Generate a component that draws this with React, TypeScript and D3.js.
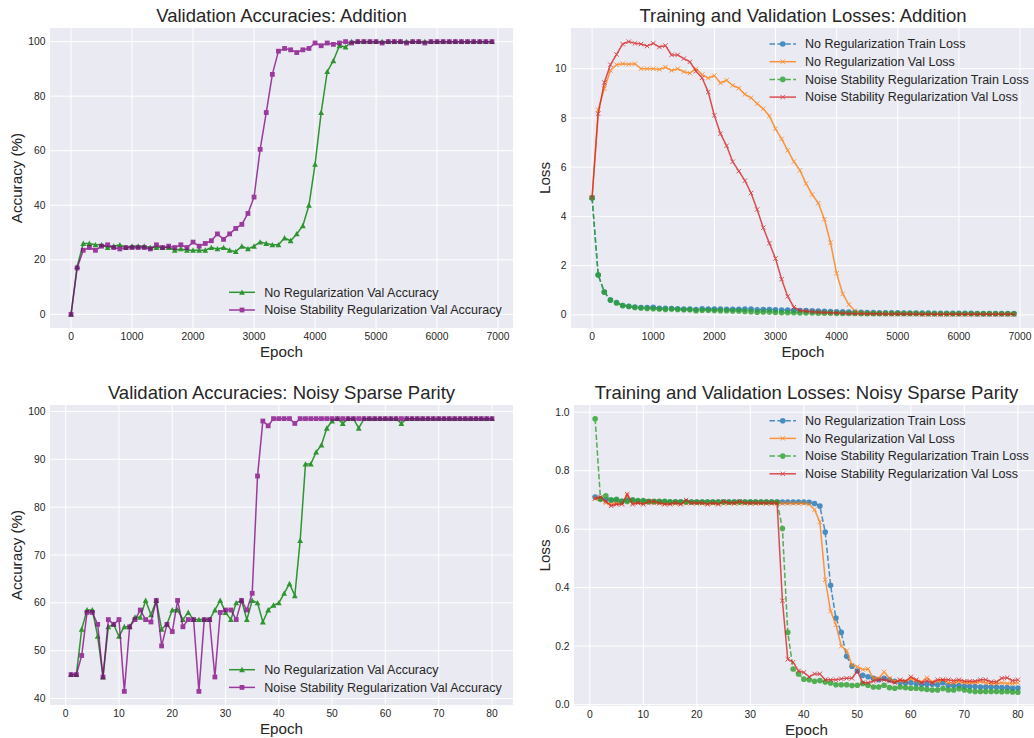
import React from "react";
import * as d3 from "d3";

// ---------- DATA ----------
const addEpochs = d3.range(0, 7000, 100);
const parityEpochs = d3.range(1, 81, 1);

const addAccNoReg = [
  0, 17.5, 26, 26, 25.5, 25.5, 24.5, 25, 25.5, 24.5, 25, 25, 25, 24.5, 24.5, 24.5, 24.5, 23.5, 24, 23.5,
  23.5, 23.5, 23.5, 24.5, 24, 24.5, 23.5, 23, 25, 24, 25, 26.5, 26, 25.5, 25.5, 28, 27, 29.5, 32.5, 40,
  55, 74, 89, 93, 98.5, 98, 100, 100, 100, 100, 100, 100, 100, 100, 100, 100, 100, 100, 100, 100,
  100, 100, 100, 100, 100, 100, 100, 100, 100, 100,
];
const addAccNoise = [
  0, 17, 23.5, 24.5, 23.5, 25, 25.5, 24.5, 24, 24.5, 24.5, 24.5, 24.5, 24, 25.5, 24.5, 25, 24.5, 25.5, 24.5,
  26.5, 25, 26, 27, 29.5, 27.5, 29.5, 31.5, 33, 37, 43, 60.5, 74, 88, 96.5, 97.5, 97, 96, 97, 97.5,
  99.5, 98.5, 99.5, 99, 99.5, 100, 99.5, 100, 100, 100, 100, 99.5, 100, 100, 100, 99.5, 100, 100, 99.5, 100,
  100, 100, 100, 100, 100, 100, 100, 100, 100, 100,
];

const addTrainNoReg = [
  4.75, 1.62, 0.93, 0.6, 0.5, 0.38, 0.35, 0.32, 0.3, 0.3, 0.31, 0.27, 0.27, 0.26, 0.25, 0.24, 0.24, 0.22, 0.25, 0.24,
  0.24, 0.24, 0.23, 0.23, 0.23, 0.24, 0.24, 0.21, 0.22, 0.22, 0.21, 0.2, 0.2, 0.19, 0.18, 0.17, 0.16, 0.15, 0.14, 0.13,
  0.12, 0.12, 0.11, 0.1, 0.1, 0.09, 0.09, 0.08, 0.08, 0.08, 0.08, 0.07, 0.07, 0.07, 0.07, 0.07, 0.06, 0.06, 0.06, 0.06,
  0.06, 0.06, 0.06, 0.05, 0.05, 0.05, 0.05, 0.05, 0.05, 0.05,
];
const addValNoReg = [
  4.77, 8.33, 9.19, 9.93, 10.16, 10.2, 10.18, 10.2, 10.0, 10.0, 10.0, 9.97, 10.06, 9.93, 10.0, 9.88, 9.82, 10.0, 9.76, 9.62,
  9.72, 9.42, 9.53, 9.32, 9.21, 8.96, 8.82, 8.58, 8.37, 8.08, 7.56, 7.15, 6.68, 6.23, 5.87, 5.33, 4.89, 4.54, 3.88, 2.93,
  1.69, 0.85, 0.42, 0.16, 0.08, 0.06, 0.05, 0.05, 0.05, 0.04, 0.04, 0.04, 0.04, 0.04, 0.03, 0.03, 0.03, 0.03, 0.03, 0.03,
  0.03, 0.03, 0.03, 0.03, 0.03, 0.03, 0.03, 0.03, 0.03, 0.03,
];
const addTrainNoise = [
  4.75, 1.62, 0.93, 0.6, 0.48, 0.38, 0.34, 0.3, 0.28, 0.26, 0.25, 0.24, 0.22, 0.24, 0.22, 0.21, 0.21, 0.17, 0.19, 0.19,
  0.18, 0.17, 0.17, 0.16, 0.16, 0.14, 0.13, 0.11, 0.12, 0.12, 0.1, 0.09, 0.09, 0.09, 0.08, 0.08, 0.08, 0.07, 0.07, 0.07,
  0.06, 0.06, 0.06, 0.06, 0.05, 0.05, 0.05, 0.05, 0.05, 0.05, 0.05, 0.05, 0.05, 0.05, 0.04, 0.04, 0.04, 0.04, 0.04, 0.04,
  0.04, 0.04, 0.04, 0.04, 0.04, 0.04, 0.04, 0.04, 0.04, 0.04,
];
const addValNoise = [
  4.77, 8.17, 9.44, 10.16, 10.58, 11.0, 11.1, 11.03, 11.0, 10.92, 11.03, 10.88, 10.94, 10.56, 10.56, 10.41, 10.28, 9.9, 9.63, 9.05,
  8.1, 7.36, 6.87, 6.22, 5.84, 5.45, 4.95, 4.28, 3.54, 2.91, 2.29, 1.45, 0.75, 0.31, 0.18, 0.15, 0.13, 0.11, 0.1, 0.09,
  0.08, 0.07, 0.06, 0.05, 0.05, 0.04, 0.04, 0.04, 0.03, 0.03, 0.03, 0.03, 0.03, 0.03, 0.02, 0.02, 0.02, 0.02, 0.02, 0.02,
  0.02, 0.02, 0.02, 0.02, 0.02, 0.02, 0.02, 0.02, 0.02, 0.02,
];

const parAccNoReg = [
  45, 45, 54.5, 58.5, 58.5, 53, 44.5, 55, 55.5, 53, 55, 55, 57, 57, 60.5, 57.5, 60.5, 54.5, 55.5, 58.5,
  58.5, 56.5, 58, 56.5, 56.5, 56.5, 56.5, 58.5, 60.5, 58, 56.5, 60, 60.5, 56.5, 60.5, 60, 56, 58.5, 59.5, 60,
  62, 64, 61.5, 73, 89, 89, 91.5, 93, 96.5, 98, 98.5, 97.5, 98.5, 98.5, 96.5, 98.5, 98.5, 98.5, 98.5, 98.5,
  98.5, 98.5, 97.5, 98.5, 98.5, 98.5, 98.5, 98.5, 98.5, 98.5, 98.5, 98.5, 98.5, 98.5, 98.5, 98.5, 98.5, 98.5, 98.5, 98.5,
];
const parAccNoise = [
  45, 45, 49, 58, 58, 55.5, 44.5, 56.5, 55.5, 56.5, 41.5, 55, 56.5, 58.5, 56.5, 56, 60.5, 51, 55.5, 54,
  60.5, 55, 56.5, 56.5, 41.5, 56.5, 56.5, 44.5, 58, 58.5, 58.5, 56.5, 60.5, 58.5, 62, 86.5, 98, 97, 98.5, 98.5,
  98.5, 98.5, 97.5, 98.5, 98.5, 98.5, 98.5, 98.5, 98.5, 98.5, 98.5, 98.5, 98.5, 98.5, 98.5, 98.5, 98.5, 98.5, 98.5, 98.5,
  98.5, 98.5, 98.5, 98.5, 98.5, 98.5, 98.5, 98.5, 98.5, 98.5, 98.5, 98.5, 98.5, 98.5, 98.5, 98.5, 98.5, 98.5, 98.5, 98.5,
];

const parTrainNoReg = [
  0.71, 0.705, 0.7, 0.7, 0.7, 0.695, 0.7, 0.7, 0.695, 0.695, 0.694, 0.694, 0.694, 0.694, 0.693, 0.693, 0.693, 0.693, 0.693, 0.693,
  0.693, 0.693, 0.693, 0.693, 0.693, 0.693, 0.693, 0.693, 0.693, 0.693, 0.693, 0.693, 0.693, 0.693, 0.693, 0.693, 0.693, 0.693, 0.693, 0.693,
  0.692, 0.688, 0.679, 0.59, 0.408, 0.296, 0.247, 0.165, 0.131, 0.115, 0.1, 0.095, 0.09, 0.085, 0.09, 0.085, 0.08, 0.076, 0.075, 0.075,
  0.072, 0.07, 0.07, 0.07, 0.068, 0.075, 0.065, 0.065, 0.065, 0.063, 0.062, 0.062, 0.06, 0.06, 0.06, 0.06, 0.058, 0.058, 0.056, 0.057,
];
const parValNoReg = [
  0.705, 0.705, 0.69, 0.685, 0.688, 0.688, 0.715, 0.69, 0.69, 0.69, 0.69, 0.689, 0.689, 0.688, 0.688, 0.688, 0.688, 0.689, 0.689, 0.688,
  0.688, 0.688, 0.688, 0.688, 0.688, 0.688, 0.688, 0.688, 0.688, 0.688, 0.688, 0.688, 0.688, 0.688, 0.688, 0.688, 0.688, 0.688, 0.688, 0.688,
  0.685, 0.667, 0.625, 0.427, 0.32, 0.273, 0.2, 0.184, 0.135, 0.13, 0.12, 0.122, 0.09, 0.09, 0.112, 0.09, 0.08, 0.082, 0.08, 0.088,
  0.082, 0.078, 0.092, 0.078, 0.08, 0.085, 0.075, 0.075, 0.078, 0.075, 0.075, 0.075, 0.078, 0.075, 0.072, 0.072, 0.075, 0.072, 0.072, 0.075,
];
const parTrainNoise = [
  0.978, 0.702, 0.714, 0.7, 0.702, 0.695, 0.695, 0.7, 0.698, 0.698, 0.695, 0.695, 0.695, 0.695, 0.694, 0.694, 0.694, 0.694, 0.693, 0.693,
  0.693, 0.693, 0.693, 0.693, 0.693, 0.693, 0.693, 0.693, 0.693, 0.693, 0.693, 0.693, 0.693, 0.693, 0.693, 0.602, 0.247, 0.122, 0.105, 0.087,
  0.085, 0.08, 0.082, 0.077, 0.074, 0.068, 0.068, 0.068, 0.065, 0.066, 0.072, 0.066, 0.06, 0.06, 0.066, 0.058, 0.056, 0.06, 0.058, 0.056,
  0.056, 0.054, 0.052, 0.05, 0.05, 0.055, 0.05, 0.05, 0.054, 0.05, 0.047, 0.045, 0.045, 0.045, 0.045, 0.045, 0.044, 0.045, 0.043, 0.042,
];
const parValNoise = [
  0.705, 0.71, 0.695, 0.68, 0.685, 0.685, 0.72, 0.685, 0.69, 0.685, 0.695, 0.695, 0.69, 0.685, 0.685, 0.69, 0.685, 0.7, 0.69, 0.69,
  0.69, 0.685, 0.69, 0.685, 0.695, 0.69, 0.69, 0.695, 0.69, 0.69, 0.69, 0.69, 0.69, 0.69, 0.69, 0.355, 0.155, 0.145, 0.115, 0.11,
  0.095, 0.105, 0.105, 0.085, 0.085, 0.085, 0.088, 0.09, 0.09, 0.115, 0.075, 0.075, 0.08, 0.085, 0.085, 0.08, 0.075, 0.085, 0.08, 0.095,
  0.085, 0.075, 0.082, 0.075, 0.085, 0.085, 0.085, 0.082, 0.085, 0.08, 0.08, 0.08, 0.085, 0.085, 0.078, 0.078, 0.09, 0.092, 0.082, 0.085,
];

const addXTicks = [0, 1000, 2000, 3000, 4000, 5000, 6000, 7000];
const parXTicks = [0, 10, 20, 30, 40, 50, 60, 70, 80];
const addAccYTicks = [0, 20, 40, 60, 80, 100];
const addLossYTicks = [0, 2, 4, 6, 8, 10];
const parAccYTicks = [40, 50, 60, 70, 80, 90, 100];
const parLossYTicks = [0, 0.2, 0.4, 0.6, 0.8, 1.0];

const accLabels = ["No Regularization Val Accuracy", "Noise Stability Regularization Val Accuracy"];
const lossLabels = [
  "No Regularization Train Loss",
  "No Regularization Val Loss",
  "Noise Stability Regularization Train Loss",
  "Noise Stability Regularization Val Loss",
];

// ---------- RENDER ----------
const FONT = "'Liberation Sans', Arial, 'DejaVu Sans', sans-serif";
const TXT = "#262626";
const BG = "#EAEAF2";

type Series = {
  x: number[];
  y: number[];
  color: string;
  alpha: number;
  dash?: string;
  marker: "tri" | "sq" | "circ" | "x";
  label: string;
};

function Marker({ kind, cx, cy, color }: { kind: string; cx: number; cy: number; color: string }) {
  if (kind === "tri") {
    const s = 2.9;
    return <path d={`M${cx},${cy - s}L${cx + s},${cy + s * 0.85}L${cx - s},${cy + s * 0.85}Z`} fill={color} />;
  }
  if (kind === "sq") {
    const s = 2.4;
    return <rect x={cx - s} y={cy - s} width={2 * s} height={2 * s} fill={color} />;
  }
  if (kind === "circ") {
    return <circle cx={cx} cy={cy} r={2.8} fill={color} />;
  }
  const s = 2.2;
  return (
    <path d={`M${cx - s},${cy - s}L${cx + s},${cy + s}M${cx - s},${cy + s}L${cx + s},${cy - s}`} stroke={color} strokeWidth={1} fill="none" />
  );
}

function Panel(props: {
  l: number; t: number; r: number; b: number;
  title: string; ylabel: string; ylabelX: number;
  xTicks: number[]; yTicks: number[]; yFmt: (v: number) => string;
  series: Series[];
  legend: { lx1: number; lx2: number; tx: number; y0: number; dy: number };
}) {
  const { l, t, r, b, series } = props;
  const allX = series.flatMap((s) => s.x);
  const allY = series.flatMap((s) => s.y);
  const [x0, x1] = d3.extent(allX) as [number, number];
  const [y0, y1] = d3.extent(allY) as [number, number];
  const px = (x1 - x0) * 0.05;
  const py = (y1 - y0) * 0.05;
  const xs = d3.scaleLinear().domain([x0 - px, x1 + px]).range([l, r]);
  const ys = d3.scaleLinear().domain([y0 - py, y1 + py]).range([b, t]);
  const cx = (l + r) / 2;
  const clipId = `clip-${Math.round(l)}-${Math.round(t)}`;
  return (
    <g>
      <defs>
        <clipPath id={clipId}>
          <rect x={l} y={t} width={r - l} height={b - t} />
        </clipPath>
      </defs>
      <rect x={l} y={t} width={r - l} height={b - t} fill={BG} />
      {props.xTicks.map((v) => (
        <line key={"gx" + v} x1={xs(v)} x2={xs(v)} y1={t} y2={b} stroke="#fff" strokeWidth={1} />
      ))}
      {props.yTicks.map((v) => (
        <line key={"gy" + v} x1={l} x2={r} y1={ys(v)} y2={ys(v)} stroke="#fff" strokeWidth={1} />
      ))}
      {props.xTicks.map((v) => (
        <text key={"tx" + v} x={xs(v)} y={b + 11.5} textAnchor="middle" fontSize={10.3} fill={TXT} fontFamily={FONT}>
          {v}
        </text>
      ))}
      {props.yTicks.map((v) => (
        <text key={"ty" + v} x={l - 4.5} y={ys(v) + 3.6} textAnchor="end" fontSize={10.3} fill={TXT} fontFamily={FONT}>
          {props.yFmt(v)}
        </text>
      ))}
      <g clipPath={`url(#${clipId})`}>
        {series.map((s, i) => {
          const line = d3.line<number>().x((_, k) => xs(s.x[k])).y((d) => ys(d));
          return (
            <g key={i} opacity={s.alpha}>
              <path d={line(s.y) || ""} fill="none" stroke={s.color} strokeWidth={1.5} strokeDasharray={s.dash} />
              {s.y.map((v, k) => (
                <Marker key={k} kind={s.marker} cx={xs(s.x[k])} cy={ys(v)} color={s.color} />
              ))}
            </g>
          );
        })}
      </g>
      <text x={cx} y={t - 6.5} textAnchor="middle" fontSize={18.5} fill={TXT} fontFamily={FONT}>
        {props.title}
      </text>
      <text x={cx} y={b + 29} textAnchor="middle" fontSize={15.2} fill={TXT} fontFamily={FONT}>
        Epoch
      </text>
      <text
        transform={`translate(${props.ylabelX},${(t + b) / 2}) rotate(-90)`}
        textAnchor="middle"
        dy="0.35em"
        fontSize={15.2}
        fill={TXT}
        fontFamily={FONT}
      >
        {props.ylabel}
      </text>
      {series.map((s, i) => {
        const yy = props.legend.y0 + i * props.legend.dy;
        const mx = (props.legend.lx1 + props.legend.lx2) / 2;
        return (
          <g key={"lg" + i}>
            <g opacity={s.alpha}>
              <line x1={props.legend.lx1} x2={props.legend.lx2} y1={yy} y2={yy} stroke={s.color} strokeWidth={1.5} strokeDasharray={s.dash} />
              <Marker kind={s.marker} cx={mx} cy={yy} color={s.color} />
            </g>
            <text x={props.legend.tx} y={yy} dy="0.35em" fontSize={12.5} fill={TXT} fontFamily={FONT}>
              {s.label}
            </text>
          </g>
        );
      })}
    </g>
  );
}

const DASH = "5.5,2.4";

export default function App() {
  const addAcc: Series[] = [
    { x: addEpochs, y: addAccNoReg, color: "#008000", alpha: 0.8, marker: "tri", label: accLabels[0] },
    { x: addEpochs, y: addAccNoise, color: "#800080", alpha: 0.75, marker: "sq", label: accLabels[1] },
  ];
  const addLoss: Series[] = [
    { x: addEpochs, y: addTrainNoReg, color: "#1f77b4", alpha: 0.8, dash: DASH, marker: "circ", label: lossLabels[0] },
    { x: addEpochs, y: addValNoReg, color: "#ff7f0e", alpha: 0.8, marker: "x", label: lossLabels[1] },
    { x: addEpochs, y: addTrainNoise, color: "#2ca02c", alpha: 0.8, dash: DASH, marker: "circ", label: lossLabels[2] },
    { x: addEpochs, y: addValNoise, color: "#d62728", alpha: 0.8, marker: "x", label: lossLabels[3] },
  ];
  const parAcc: Series[] = [
    { x: parityEpochs, y: parAccNoReg, color: "#008000", alpha: 0.8, marker: "tri", label: accLabels[0] },
    { x: parityEpochs, y: parAccNoise, color: "#800080", alpha: 0.75, marker: "sq", label: accLabels[1] },
  ];
  const parLoss: Series[] = [
    { x: parityEpochs, y: parTrainNoReg, color: "#1f77b4", alpha: 0.8, dash: DASH, marker: "circ", label: lossLabels[0] },
    { x: parityEpochs, y: parValNoReg, color: "#ff7f0e", alpha: 0.8, marker: "x", label: lossLabels[1] },
    { x: parityEpochs, y: parTrainNoise, color: "#2ca02c", alpha: 0.8, dash: DASH, marker: "circ", label: lossLabels[2] },
    { x: parityEpochs, y: parValNoise, color: "#d62728", alpha: 0.8, marker: "x", label: lossLabels[3] },
  ];
  const intFmt = (v: number) => String(v);
  const decFmt = (v: number) => v.toFixed(1);
  return (
    <svg
      width={1034}
      height={738}
      style={{ position: "absolute", left: 0, top: 0, background: "#fff" }}
    >
      <rect x={0} y={0} width={1034} height={738} fill="#fff" />
      <Panel l={50} t={28} r={513} b={328} title="Validation Accuracies: Addition" ylabel="Accuracy (%)" ylabelX={17}
        xTicks={addXTicks} yTicks={addAccYTicks} yFmt={intFmt} series={addAcc}
        legend={{ lx1: 229, lx2: 255, tx: 264.3, y0: 292.3, dy: 17.7 }} />
      <Panel l={571} t={28} r={1035} b={328} title="Training and Validation Losses: Addition" ylabel="Loss" ylabelX={545}
        xTicks={addXTicks} yTicks={addLossYTicks} yFmt={intFmt} series={addLoss}
        legend={{ lx1: 769.5, lx2: 796, tx: 805, y0: 44, dy: 17.7 }} />
      <Panel l={50} t={405} r={513} b={705} title="Validation Accuracies: Noisy Sparse Parity" ylabel="Accuracy (%)" ylabelX={17}
        xTicks={parXTicks} yTicks={parAccYTicks} yFmt={intFmt} series={parAcc}
        legend={{ lx1: 229, lx2: 255, tx: 264.3, y0: 669.7, dy: 17.7 }} />
      <Panel l={574} t={405} r={1039} b={706} title="Training and Validation Losses: Noisy Sparse Parity" ylabel="Loss" ylabelX={545}
        xTicks={parXTicks} yTicks={parLossYTicks} yFmt={decFmt} series={parLoss}
        legend={{ lx1: 769.5, lx2: 796, tx: 805, y0: 420.7, dy: 17.7 }} />
    </svg>
  );
}
